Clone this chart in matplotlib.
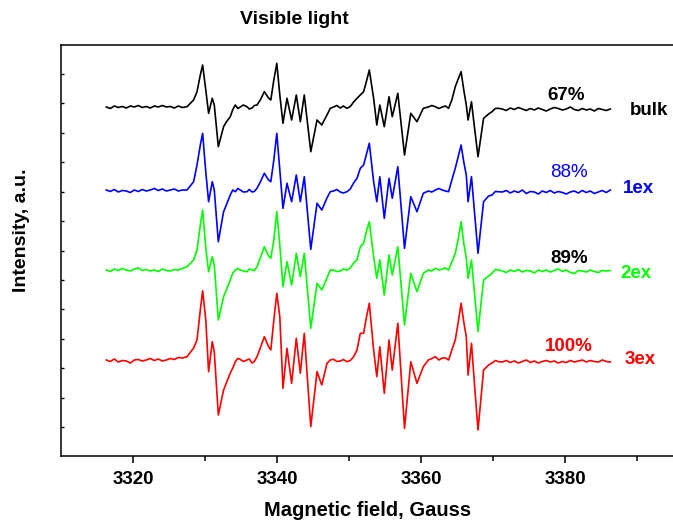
import numpy as np
import matplotlib.pyplot as plt

plt.rcParams['font.family'] = ['Liberation Sans', 'DejaVu Sans']

# magnetic field (Gauss) at the sampled points: low-field baseline, lines, high-field baseline
field_left = [3316.29, 3316.85, 3317.40, 3317.96, 3318.51, 3319.07, 3319.63, 3320.18, 3320.74, 3321.29,
              3321.85, 3322.40, 3322.96, 3323.51, 3324.07, 3324.63, 3325.18, 3325.74, 3326.29, 3326.85]
field_mid = [3327.50, 3328.42, 3328.89, 3329.35, 3329.67, 3330.11, 3330.50, 3331.01, 3331.29, 3331.85,
             3332.58, 3332.96, 3333.51, 3333.86, 3334.21, 3334.56, 3334.90, 3335.32, 3335.83, 3336.15,
             3336.53, 3336.85, 3337.22, 3337.68, 3338.24, 3338.83, 3339.14, 3339.56, 3339.97, 3340.39,
             3340.83, 3341.39, 3342.03, 3342.68, 3343.24, 3343.79, 3344.69, 3345.56, 3346.22, 3346.94,
             3347.40, 3347.86, 3348.31, 3348.79, 3349.21, 3349.72, 3350.18, 3350.64, 3351.11, 3351.57,
             3352.03, 3352.40, 3352.82, 3353.42, 3353.86, 3354.28, 3354.90, 3355.56, 3356.01, 3356.78,
             3357.71, 3358.58, 3359.44, 3360.32, 3361.01, 3361.50, 3361.99, 3362.47, 3362.96, 3363.38,
             3363.83, 3364.28, 3364.76, 3365.22, 3365.57, 3365.94, 3366.29, 3366.54, 3367.01, 3367.47,
             3367.92, 3368.69, 3369.39, 3369.86, 3370.32, 3370.78]
field_right = [3371.29, 3371.85, 3372.40, 3372.96, 3373.51, 3374.07, 3374.63, 3375.18, 3375.74, 3376.29,
               3376.85, 3377.40, 3377.96, 3378.51, 3379.07, 3379.63, 3380.18, 3380.74, 3381.29, 3381.85,
               3382.40, 3382.96, 3383.51, 3384.07, 3384.63, 3385.18, 3385.74, 3386.29]

# EPR signal, a.u., relative to each spectrum's own baseline
bulk_signal = ([0, -1.5, 1, -0.5, 0.5, -1, 1, 0, 1.5, -0.5,
                0.5, -1, 1, 0, 1.5, 0, 0.5, -1, 1, -0.5] +
               [0.3, 7, 15.3, 32, 42, 17, -6.3, 8.7, 2, -39.7,
                -19.7, -15, -9.7, -2.5, 2, -1.5, 0, 2, 0.3, -2,
                -1, 1.5, 2, 7, 15.3, 9, 7, 27, 43.7, 12,
                -16.3, 8.7, -13, 12, -14.7, 12, -44.7, -13, -18, -8,
                -1.3, 0, 1.5, -1, 1, -1.3, 0.5, 5, 8.7, 12,
                15.3, 25, 37, 8.7, -18, 2, -19.7, 10.3, -9.7, 13.7,
                -48, -6.3, -14.7, -1.3, 0, 1.5, 0.3, -1.5, 0, 1,
                -1.3, 7, 20.3, 29, 35.3, 17, 2, -13, 5.3, -23,
                -49.7, -11.3, -7, -4.7, -1.5, -1.3] +
               [-2, -3.5, -1, -2.5, -0.5, -2, -3.5, -1.5, -3, -1,
                -2.5, -4, -2, -0.5, -1.5, -3, -2, 0, -2.5, -3.5,
                -1.5, -3, -2, -4, -1.5, -2.5, -3.5, -2])
ex1_signal = ([0, -1.5, 0.5, -2, -0.5, -1, -2.5, 0, -1.5, 0.5,
               -1, 0, 1.5, -0.5, 1, -1, 0, 1, -1, 0] +
              [0, 8.3, 25, 45, 56.7, 18, -11.7, 8.3, 0, -51.7,
               -21.7, -15, -5, 0, -1.7, 1.5, 0, -2, -1.7, 0.5,
               -2, -1.5, 1.7, 8, 16.7, 10, 8.3, 30, 56.7, 20,
               -18.3, 6.7, -11.7, 15, -11.7, 13.3, -59.3, -13.3, -20, -8,
               -1.7, -1, 0.5, -2, -3, -1.7, 1, 7, 11.7, 21.7,
               25, 35, 46.7, 8.3, -11.7, 13.3, -28.3, 11.7, -8.3, 23.3,
               -58.3, -6.7, -21.7, -3.3, -1, -2, 0, 1.5, 0, -1,
               -1.7, 10, 21.7, 35, 45, 28, 15, -11.7, 13.3, -25,
               -63.3, -11.7, -6, -5, -1.5, -1.7] +
              [-2, -0.5, -3, -1, -2.5, 0, -3.5, -1.5, -2, -4,
               -1, -2.5, -0.5, -3, -1.5, -2.5, -4, -2, -1, -3,
               -0.5, -2.5, -1, -3.5, -2, -0.5, -2.5, 0])
ex2_signal = ([0, -1.5, 1, -0.5, 1.5, 0, -1, 1, 2, -0.5,
               0.5, -1, 0, -1.5, 1, -0.5, -1, 0.5, 0, 1.5] +
              [3.3, 10, 20, 45, 60, 22, -1.7, 13.3, 5, -50,
               -26.7, -20, -10, -3, 0, 1.5, 0, -1, -1.7, 1,
               0, -0.5, 3.3, 12, 23.3, 14, 11.7, 30, 58.3, 25,
               -16.7, 8.3, -15, 16.7, -6.7, 16.7, -58.3, -13.3, -20, -8,
               0, 0, -1.5, -1, 1, 0, 2, 7, 10, 23.3,
               26.7, 38, 48.3, 13.3, -8.3, 10, -25, 15, -5, 23.3,
               -55, -3.3, -21.7, -3.3, 0, -1, 1.7, 0, 1, 2,
               0, 8, 16.7, 33, 48.3, 27, 11.7, -8.3, 10, -26,
               -61.7, -10, -6, -3.3, 0.5, 0] +
              [-1, -2.5, 0, -1.5, 0.5, -2, -0.5, -1, -3, 0,
               -1.5, 0, -2, -0.5, 1, -1.5, 0, -2.5, -3.5, -0.5,
               -1, -2, 0, -1.5, -2.5, -0.5, -1, -0.5])
ex3_signal = ([0, -1.5, 1, -2, -0.5, -1, -3, 0, 0.5, -1,
               0, 1.5, -0.5, 1, -1, 0, 1.5, 0.5, 2.5, 2] +
              [3.3, 12, 20, 50, 69.3, 40, -11.7, 18.3, 8, -55,
               -30, -23, -13, -8, -1.7, 1.5, 0.7, -1.5, 0, 1,
               -3, -1.5, 3.3, 12, 23.3, 13.3, 10, 40, 66.7, 43.3,
               -28.3, 11.7, -23.3, 21.7, -13.3, 26.7, -66.7, -11.7, -25, -3.3,
               0, 0.7, -1.5, -1, 0.5, -1.7, -0.5, 3.3, 10, 26.7,
               26.7, 42, 56.7, 10, -16.7, 13.3, -33.3, 20, -10, 36.7,
               -68.3, -1.7, -23.3, -6.7, 0, 1.5, 3.3, 0, 2, 2,
               0, 10, 20, 40, 56.7, 38, 23.3, -15, 16.7, -28,
               -70, -10, -5, -3, -0.5, -1.7] +
              [-2, -0.5, -2.5, -1, -3, -1.5, 0, -2.5, -1, -3,
               -1.5, -0.5, -2, -1, -3, -1.5, -2.5, -0.5, -2, -1,
               0, -2, -0.5, -1.5, -2, 0, -1.5, -2])

samples = ['bulk', '1ex', '2ex', '3ex']
signals = [bulk_signal, ex1_signal, ex2_signal, ex3_signal]
offsets = [393, 310, 230, 140]
percents = ['67%', '88%', '89%', '100%']

line_colors = ['#000000', '#0000ff', '#00ff00', '#ff0000']
percent_colors = ['#000000', '#0000ff', '#000000', '#ff0000']
percent_weights = ['bold', 'normal', 'bold', 'bold']

x_ticks = [3320, 3340, 3360, 3380]
x_tick_labels = ['3320', '3340', '3360', '3380']

field = np.array(field_left + field_mid + field_right)

fig = plt.figure(figsize=(6.73, 5.21), dpi=100)
ax = fig.add_axes([61 / 673, 65 / 521, 612 / 673, 411 / 521])

for sig, off, col in zip(signals, offsets, line_colors):
    ax.plot(field, off + np.array(sig), color=col, lw=1.2, solid_joinstyle='round')

# percentage and sample labels next to each spectrum
pct_pos = [(3380.2, 400), (3380.5, 323.3), (3380.6, 237.3), (3380.5, 149.3)]
name_pos = [(3388.96, 385), (3388.06, 306.7), (3387.68, 221.7), (3388.24, 136)]
for i in range(4):
    ax.text(pct_pos[i][0], pct_pos[i][1], percents[i], color=percent_colors[i],
            fontsize=13.5, fontweight=percent_weights[i], ha='center', va='baseline')
    ax.text(name_pos[i][0], name_pos[i][1], samples[i], color=line_colors[i],
            fontsize=13.5, fontweight='bold', ha='left', va='baseline', clip_on=False)

ax.set_xlim(3310, 3395)
ax.set_ylim(44, 455)
ax.set_xticks(x_ticks)
ax.set_xticklabels(x_tick_labels, fontweight='bold')
ax.set_xticks([3330, 3350, 3370, 3390], minor=True)
ax.set_yticks(np.linspace(73, 426, 13))
ax.tick_params(axis='x', which='major', direction='out', length=5, width=1.1,
               labelsize=13.5, pad=5.5)
ax.tick_params(axis='x', which='minor', direction='out', length=3.5, width=1.1)
ax.tick_params(axis='y', direction='in', length=2.5, width=1, labelleft=False)
for side in ['left', 'bottom', 'top']:
    ax.spines[side].set_linewidth(1.1)
ax.spines['right'].set_visible(False)

fig.text(294 / 673, 1 - 20 / 521, 'Visible light', fontsize=14, fontweight='bold',
         ha='center', va='center')
fig.text(368 / 673, 5 / 521, 'Magnetic field, Gauss', fontsize=14.5, fontweight='bold',
         ha='center', va='baseline')
fig.text(22 / 673, 1 - 230 / 521, 'Intensity, a.u.', fontsize=14, fontweight='bold',
         rotation=90, ha='center', va='center')

fig.savefig('out.png', dpi=100)
